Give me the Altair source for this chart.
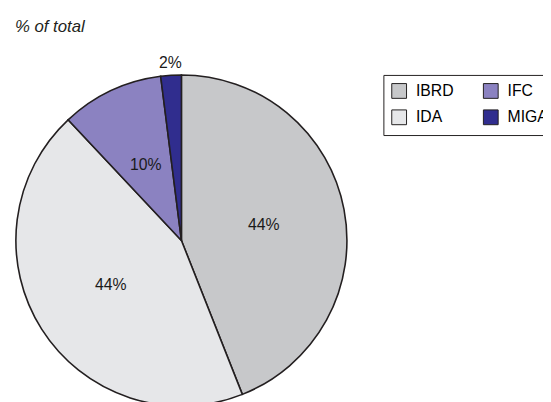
import altair as alt
import pandas as pd

categories = ["IBRD", "IDA", "IFC", "MIGA"]
shares = [44, 44, 10, 2]
colors = ["#c7c8ca", "#e6e7e9", "#8b82c1", "#302d8e"]

df = pd.DataFrame({
    "cat": categories,
    "share": shares,
    "idx": list(range(len(categories))),
    "label": [f"{v}%" for v in shares],
})

CX, CY = 176, 233
R = 168
DARK = "#231f20"
FONT = "Liberation Sans"

color = alt.Color(
    "cat:N",
    scale=alt.Scale(domain=categories, range=colors),
    legend=alt.Legend(
        title=None,
        orient="none",
        legendX=381,
        legendY=65,
        columns=2,
        symbolType="square",
        symbolSize=225,
        symbolStrokeColor=DARK,
        symbolStrokeWidth=1,
        labelFontSize=16,
        labelFont=FONT,
        labelColor="#000000",
        labelOffset=9,
        columnPadding=27,
        rowPadding=7,
        padding=8,
        strokeColor=DARK,
        fillColor="white",
    ),
)

base = alt.Chart(df)

pie = base.mark_arc(stroke=DARK, strokeWidth=1.6, outerRadius=R).encode(
    x=alt.value(CX),
    y=alt.value(CY),
    theta=alt.Theta("share:Q", stack=True),
    order=alt.Order("idx:Q"),
    color=color,
)

inner_labels = base.mark_text(font=FONT, fontSize=16, color="#1a1a1a", radius=85).encode(
    x=alt.value(CX),
    y=alt.value(CY),
    theta=alt.Theta("share:Q", stack=True),
    order=alt.Order("idx:Q"),
    text=alt.condition("datum.cat != 'MIGA'", alt.Text("label:N"), alt.value("")),
)

outer_labels = base.mark_text(font=FONT, fontSize=16, color="#1a1a1a", radius=180).encode(
    x=alt.value(CX),
    y=alt.value(CY),
    theta=alt.Theta("share:Q", stack=True),
    order=alt.Order("idx:Q"),
    text=alt.condition("datum.cat == 'MIGA'", alt.Text("label:N"), alt.value("")),
)

title = alt.Chart(pd.DataFrame({"t": ["% of total"]})).mark_text(
    font=FONT, fontSize=17, fontStyle="italic", align="left", baseline="alphabetic", color="#231f20"
).encode(x=alt.value(7), y=alt.value(21), text="t:N")

chart = alt.layer(pie, inner_labels, outer_labels, title).properties(
    width=543,
    height=394,
    padding=0,
    autosize=alt.AutoSizeParams(type="none"),
).configure_view(stroke=None)

chart.save("out.html", embed_options={"renderer": "svg", "actions": False})
